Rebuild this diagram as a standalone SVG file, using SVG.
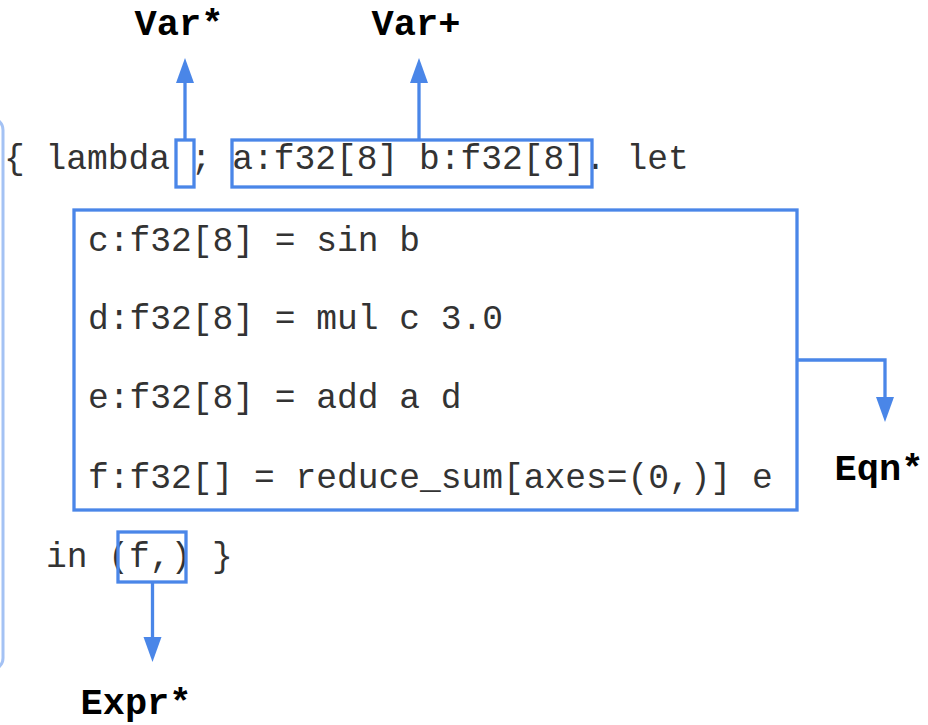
<svg xmlns="http://www.w3.org/2000/svg" width="928" height="725" viewBox="0 0 928 725">
  <style>
    .code { font-family: "Liberation Mono", "Courier New", monospace; font-size: 34.6px; fill: #333333; }
    .label { font-family: "Liberation Mono", "Courier New", monospace; font-size: 37px; font-weight: bold; fill: #000000; text-anchor: middle; }
    .box { fill: none; stroke: #4a86e8; stroke-width: 3.3; }
    .conn { fill: none; stroke: #4a86e8; stroke-width: 3.3; }
    .head { fill: #4a86e8; }
    .bracket { fill: none; stroke: #a4c2f4; stroke-width: 3; }
  </style>
  <rect class="bracket" x="-200" y="118" width="203" height="552" rx="12"/>
  <g id="code">
    <text class="code" x="4" y="169" xml:space="preserve">{ lambda ; a:f32[8] b:f32[8]. let</text>
    <text class="code" x="88" y="251">c:f32[8] = sin b</text>
    <text class="code" x="88" y="329">d:f32[8] = mul c 3.0</text>
    <text class="code" x="88" y="408">e:f32[8] = add a d</text>
    <text class="code" x="88" y="488">f:f32[] = reduce_sum[axes=(0,)] e</text>
    <text class="code" x="46" y="567" xml:space="preserve">in (f,) }</text>
  </g>
  <g id="node-var-star">
    <rect class="box" x="176" y="140" width="18" height="47"/>
    <text class="label" x="179" y="35">Var*</text>
  </g>
  <g id="node-var-plus">
    <rect class="box" x="232" y="140" width="360" height="47"/>
    <text class="label" x="416" y="35">Var+</text>
  </g>
  <g id="node-eqn-star">
    <rect class="box" x="74" y="210" width="723" height="300"/>
    <text class="label" x="879" y="480">Eqn*</text>
  </g>
  <g id="node-expr-star">
    <rect class="box" x="118" y="532" width="68" height="50"/>
    <text class="label" x="136" y="714">Expr*</text>
  </g>
  <g id="connectors">
    <path class="conn" d="M185 140 V82"/>
    <polygon class="head" points="176,83 194,83 185,58"/>
    <path class="conn" d="M419 140 V82"/>
    <polygon class="head" points="410,83 428,83 419,58"/>
    <path class="conn" d="M797 360 H885 V398"/>
    <polygon class="head" points="876,397 894,397 885,422"/>
    <path class="conn" d="M152.5 582 V638"/>
    <polygon class="head" points="143.5,637 161.5,637 152.5,662"/>
  </g>
</svg>
